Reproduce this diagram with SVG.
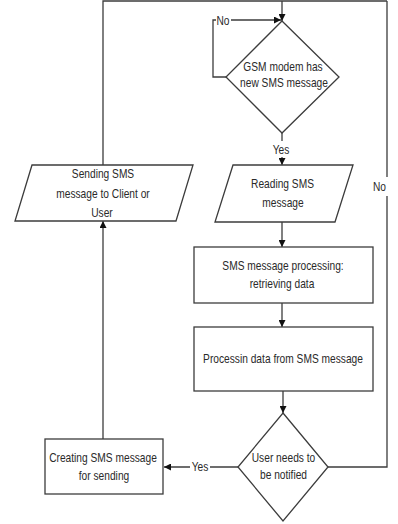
<svg xmlns="http://www.w3.org/2000/svg" width="398" height="524" viewBox="0 0 398 524">
  <style>
    .shape { fill: #ffffff; stroke: #3c3c3c; stroke-width: 1.3; }
    .wire { fill: none; stroke: #3c3c3c; stroke-width: 1.3; }
    .arrow { marker-end: url(#head); }
    .label { font-family: "Liberation Sans", Arial, sans-serif; font-size: 13.6px; fill: #2a2a2a; text-anchor: middle; }
    .gap { fill: #ffffff; stroke: none; }
  </style>
  <defs>
    <marker id="head" viewBox="0 0 10 10" refX="10" refY="5" markerWidth="8" markerHeight="7" markerUnits="userSpaceOnUse" orient="auto">
      <path d="M0,0 L10,5 L0,10 z" fill="#111111"/>
    </marker>
  </defs>
  <rect width="398" height="524" fill="#ffffff"/>

  <!-- connectors -->
  <g id="connectors">
    <!-- return loop: left column up, across the top, down into the first decision -->
    <polyline class="wire" points="103,165 103,1 387,1"/>
    <line class="wire arrow" x1="282" y1="1" x2="282" y2="21"/>
    <!-- "No" loop of the first decision -->
    <polyline class="wire arrow" points="226,77 213,77 213,20 281,20"/>
    <!-- main column -->
    <line class="wire arrow" x1="282" y1="133" x2="282" y2="165"/>
    <line class="wire arrow" x1="282" y1="222" x2="282" y2="247"/>
    <line class="wire arrow" x1="282" y1="303" x2="282" y2="327"/>
    <line class="wire arrow" x1="283" y1="391" x2="283" y2="413"/>
    <!-- "No" branch of the second decision back to the top -->
    <polyline class="wire" points="328,467 387,467 387,1"/>
    <!-- "Yes" branch of the second decision -->
    <line class="wire arrow" x1="238" y1="467" x2="164" y2="467"/>
    <!-- creating -> sending -->
    <line class="wire arrow" x1="103" y1="439" x2="103" y2="221"/>

    <!-- connector labels (condensed type: horizontal scale 0.75) -->
    <rect class="gap" x="216" y="13" width="15" height="14"/>
    <text class="label" transform="translate(223,24.8) scale(0.75,1)">No</text>
    <rect class="gap" x="272" y="141" width="19" height="16"/>
    <text class="label" transform="translate(281,153.8) scale(0.75,1)">Yes</text>
    <rect class="gap" x="190" y="459" width="20" height="15"/>
    <text class="label" transform="translate(200,470.8) scale(0.75,1)">Yes</text>
    <rect class="gap" x="372" y="177" width="18" height="19"/>
    <text class="label" transform="translate(379.5,190.8) scale(0.75,1)">No</text>
  </g>

  <!-- decision: new SMS message -->
  <g id="gsm-decision">
    <polygon class="shape" points="282,21 339,77 282,133 226,77"/>
    <text class="label" transform="translate(283,70.8) scale(0.75,1)">GSM modem has</text>
    <text class="label" transform="translate(284,86.8) scale(0.75,1)">new SMS message</text>
  </g>

  <!-- input: reading SMS message -->
  <g id="reading-sms">
    <polygon class="shape" points="233,165 353,165 335,222 215,222"/>
    <text class="label" transform="translate(282.5,187.8) scale(0.75,1)">Reading SMS</text>
    <text class="label" transform="translate(283,206.8) scale(0.75,1)">message</text>
  </g>

  <!-- process: retrieving data -->
  <g id="sms-processing">
    <rect class="shape" x="194" y="247" width="179" height="56"/>
    <text class="label" transform="translate(283,269.8) scale(0.75,1)">SMS message processing:</text>
    <text class="label" transform="translate(282,287.8) scale(0.75,1)">retrieving data</text>
  </g>

  <!-- process: handling the data -->
  <g id="data-processing">
    <rect class="shape" x="194" y="327" width="179" height="64"/>
    <text class="label" transform="translate(283,362.8) scale(0.75,1)">Processin data from SMS message</text>
  </g>

  <!-- decision: notify user -->
  <g id="notify-decision">
    <polygon class="shape" points="283,413 328,467 283,521 238,467"/>
    <text class="label" transform="translate(283.5,461.8) scale(0.75,1)">User needs to</text>
    <text class="label" transform="translate(283.5,478.8) scale(0.75,1)">be notified</text>
  </g>

  <!-- process: build reply -->
  <g id="creating-sms">
    <rect class="shape" x="45" y="439" width="118" height="55"/>
    <text class="label" transform="translate(103,461.8) scale(0.75,1)">Creating SMS message</text>
    <text class="label" transform="translate(104,479.8) scale(0.75,1)">for sending</text>
  </g>

  <!-- output: send reply -->
  <g id="sending-sms">
    <polygon class="shape" points="32,165 193,165 176,221 15,221"/>
    <text class="label" transform="translate(103,177.8) scale(0.75,1)">Sending SMS</text>
    <text class="label" transform="translate(103,197.8) scale(0.75,1)">message to Client or</text>
    <text class="label" transform="translate(102,216.8) scale(0.75,1)">User</text>
  </g>
</svg>
